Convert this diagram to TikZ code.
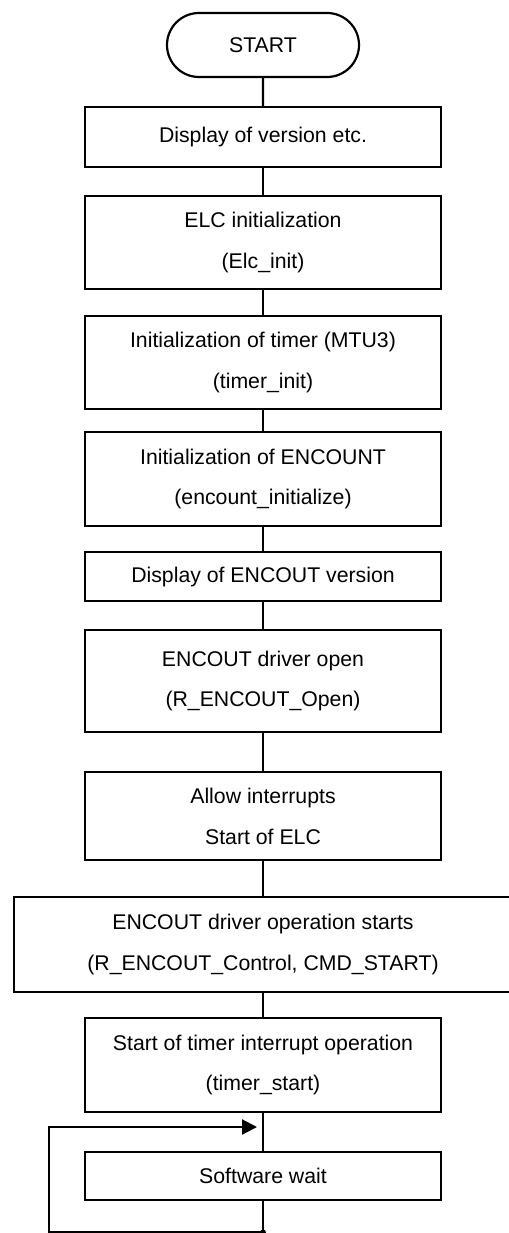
\documentclass[tikz,border=0pt]{standalone}
\usepackage{fontspec}
\setmainfont{Liberation Sans}
\usepackage{tikz}
\usetikzlibrary{shapes.misc}
\usetikzlibrary{arrows.meta}
\tikzset{procbox/.style={draw=black,line width=1.25pt,minimum width=7.12cm,align=center,inner sep=0pt,font=\fontsize{12.1}{23.3}\selectfont}}
\tikzset{termbox/.style={procbox,shape=rounded rectangle,minimum width=3.84cm,minimum height=1.28cm}}
\tikzset{flowline/.style={line width=1.25pt}}

\begin{document}
\begin{tikzpicture}
		\useasboundingbox (0,0) rectangle (10.16,-24.66);
		\node[termbox] (start) at (5.26,-0.90) {START};
		\node[procbox,minimum height=1.20cm] (version) at (5.26,-2.74) {Display of version etc.};
		\node[procbox,minimum height=1.86cm] (elcinit) at (5.26,-4.85) {ELC initialization\\(Elc\_init)};
		\node[procbox,minimum height=1.86cm] (timerinit) at (5.26,-7.25) {Initialization of timer (MTU3)\\(timer\_init)};
		\node[procbox,minimum height=1.88cm] (encinit) at (5.26,-9.58) {Initialization of ENCOUNT\\(encount\_initialize)};
		\node[procbox,minimum height=0.98cm] (encver) at (5.26,-11.53) {Display of ENCOUT version};
		\node[procbox,minimum height=2.04cm] (encopen) at (5.26,-13.62) {ENCOUT driver open\\(R\_ENCOUT\_Open)};
		\node[procbox,minimum height=1.76cm] (allowint) at (5.26,-16.32) {Allow interrupts\\Start of ELC};
		\node[procbox,minimum width=9.96cm,minimum height=1.90cm] (enccontrol) at (5.26,-18.89) {ENCOUT driver operation starts\\(R\_ENCOUT\_Control, CMD\_START)};
		\node[procbox,minimum height=1.88cm] (timerstart) at (5.26,-21.30) {Start of timer interrupt operation\\(timer\_start)};
		\node[procbox,minimum height=0.96cm] (wait) at (5.26,-23.52) {Software wait};
		% connectors
		\draw[flowline] (start) -- (version);
		\draw[flowline] (version) -- (elcinit);
		\draw[flowline] (elcinit) -- (timerinit);
		\draw[flowline] (timerinit) -- (encinit);
		\draw[flowline] (encinit) -- (encver);
		\draw[flowline] (encver) -- (encopen);
		\draw[flowline] (encopen) -- (allowint);
		\draw[flowline] (allowint) -- (enccontrol);
		\draw[flowline] (enccontrol) -- (timerstart);
		\draw[flowline] (timerstart) -- (wait);
		% loop back
		\coordinate (loopbottom) at (5.26,-24.65);
		\coordinate (loopleft) at (0.98,-24.65);
		\coordinate (loopin) at (5.26,-22.54);
		\draw[flowline,-{Triangle[length=0.3cm,width=0.3cm]},shorten >=0.12cm] (wait) -- (loopbottom) -- (loopleft) |- (loopin);
		\fill (loopbottom) circle (0.06);
	\end{tikzpicture}
\end{document}
